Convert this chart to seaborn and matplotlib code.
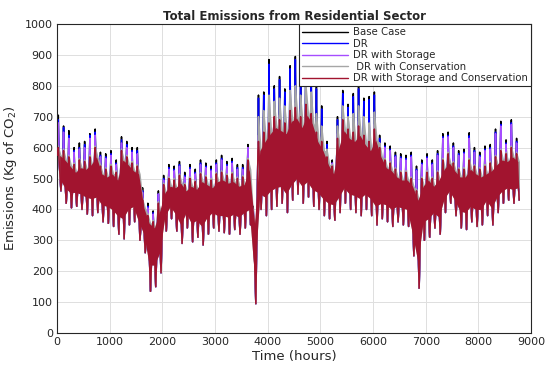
import numpy as np
import pandas as pd
import matplotlib
matplotlib.use("Agg")
import matplotlib.pyplot as plt
from matplotlib.colors import to_hex
import seaborn as sns

# hourly series summarised per 100-hour block: spike tops and troughs
block_start = np.arange(0, 8800, 100)

base_hi = [705, 670, 655, 600, 615, 620, 645, 660, 585, 580,
           590, 560, 635, 620, 600, 600, 470, 420, 395, 460,
           510, 545, 540, 555, 520, 545, 530, 560, 550, 540,
           560, 575, 555, 565, 545, 545, 610, 410, 770, 780,
           885, 800, 830, 790, 865, 895, 850, 915, 860, 800,
           735, 620, 560, 700, 785, 740, 775, 800, 760, 765,
           780, 640, 615, 605, 585, 580, 575, 585, 540, 560,
           580, 560, 590, 645, 650, 615, 590, 595, 648, 600,
           585, 605, 610, 660, 685, 625, 690, 630]

dr_hi = [690, 665, 640, 590, 600, 610, 640, 650, 575, 570,
         580, 550, 625, 610, 590, 590, 460, 410, 390, 450,
         500, 535, 530, 545, 510, 535, 520, 550, 540, 530,
         550, 565, 545, 555, 535, 535, 600, 400, 760, 770,
         870, 790, 820, 780, 855, 885, 840, 905, 850, 790,
         725, 610, 550, 690, 775, 730, 765, 790, 750, 755,
         770, 630, 605, 595, 575, 570, 565, 575, 530, 550,
         570, 550, 580, 635, 640, 605, 580, 585, 638, 590,
         575, 595, 600, 650, 675, 615, 680, 620]

storage_hi = [680, 650, 630, 585, 595, 600, 630, 640, 570, 565,
              575, 545, 615, 600, 585, 580, 455, 405, 385, 450,
              495, 530, 525, 540, 505, 530, 515, 545, 535, 525,
              545, 560, 540, 550, 530, 530, 600, 400, 640, 665,
              695, 715, 705, 695, 735, 745, 715, 755, 725, 665,
              635, 585, 550, 645, 705, 675, 665, 685, 655, 635,
              675, 615, 600, 590, 570, 565, 560, 570, 525, 545,
              565, 545, 575, 630, 635, 600, 575, 580, 630, 585,
              570, 590, 595, 645, 670, 610, 675, 615]

conserv_hi = [605, 595, 575, 550, 565, 560, 575, 605, 545, 535,
              545, 525, 595, 575, 555, 545, 435, 385, 365, 425,
              485, 505, 500, 515, 485, 505, 495, 520, 510, 500,
              520, 525, 515, 520, 505, 510, 565, 385, 700, 720,
              770, 750, 760, 735, 785, 800, 770, 805, 780, 710,
              670, 595, 545, 670, 735, 700, 710, 735, 700, 680,
              715, 615, 565, 555, 535, 525, 525, 505, 465, 505,
              525, 505, 525, 565, 585, 555, 535, 535, 565, 545,
              535, 545, 555, 575, 595, 585, 605, 585]

both_hi = [600, 590, 570, 545, 560, 555, 570, 600, 540, 530,
           540, 520, 590, 570, 550, 540, 430, 380, 360, 420,
           480, 500, 495, 510, 480, 500, 490, 515, 505, 495,
           515, 520, 510, 515, 500, 505, 560, 380, 620, 650,
           680, 700, 690, 680, 720, 730, 700, 740, 710, 650,
           620, 570, 540, 630, 690, 660, 650, 670, 640, 620,
           660, 600, 560, 550, 530, 520, 520, 500, 460, 500,
           520, 500, 520, 560, 580, 550, 530, 530, 560, 540,
           530, 540, 550, 570, 590, 580, 600, 580]

# troughs (same for all cases, the red series hides the others there)
block_lo = [460, 420, 405, 410, 400, 385, 380, 390, 360, 355,
            345, 320, 305, 350, 360, 300, 260, 135, 150, 195,
            330, 370, 330, 290, 340, 295, 310, 285, 320, 340,
            330, 325, 320, 335, 320, 340, 350, 95, 400, 380,
            400, 410, 420, 390, 430, 450, 420, 440, 410, 400,
            380, 370, 365, 390, 420, 400, 390, 380, 400, 380,
            350, 370, 360, 345, 360, 350, 345, 250, 145, 300,
            310, 340, 320, 390, 420, 380, 340, 335, 360, 345,
            350, 380, 350, 390, 420, 430, 420, 430]

# solid part of the red band (where the hourly line fills the pixels)
body_top = [575, 560, 540, 520, 535, 530, 545, 570, 515, 505,
            515, 495, 560, 545, 525, 515, 405, 355, 340, 395,
            455, 475, 470, 485, 460, 475, 465, 490, 480, 470,
            490, 495, 485, 490, 475, 480, 530, 355, 590, 620,
            645, 665, 655, 645, 685, 695, 665, 705, 675, 620,
            590, 545, 515, 600, 655, 630, 620, 640, 610, 590,
            625, 570, 535, 525, 505, 495, 495, 475, 430, 475,
            495, 475, 495, 530, 550, 525, 505, 505, 530, 515,
            505, 515, 525, 545, 560, 555, 570, 555]

body_bot = [500, 470, 455, 455, 450, 440, 435, 440, 415, 410,
            400, 380, 370, 400, 410, 360, 320, 220, 220, 260,
            380, 410, 385, 350, 390, 355, 365, 345, 375, 390,
            380, 380, 375, 385, 375, 390, 400, 180, 450, 440,
            460, 470, 475, 450, 480, 500, 475, 490, 465, 455,
            435, 420, 415, 440, 470, 450, 445, 435, 450, 435,
            410, 420, 415, 400, 410, 405, 400, 320, 230, 360,
            370, 390, 375, 435, 460, 430, 395, 390, 410, 400,
            400, 430, 405, 440, 460, 470, 465, 470]

series_names = ["Base Case", "DR", "DR with Storage",
                " DR with Conservation", "DR with Storage and Conservation"]
series_hi = [base_hi, dr_hi, storage_hi, conserv_hi, both_hi]
colors = ["#000000", "#0000FF", "#A64DFF", "#A6A6A6", "#A2142F"]

# long table: per block the line rises from the band to its spike top,
# comes back to the band and then dips to the trough
rows = []
for name, hi in zip(series_names, series_hi):
    for t, h, b, l in zip(block_start, hi, body_top, block_lo):
        rows.append({"hour": t + 15, "emis": b, "case": name})
        rows.append({"hour": t + 25, "emis": h, "case": name})
        rows.append({"hour": t + 35, "emis": b, "case": name})
        rows.append({"hour": t + 75, "emis": l, "case": name})
df = pd.DataFrame(rows)

sns.set_theme(style="whitegrid")
plt.rcParams['font.family'] = ['DejaVu Sans']

fig = plt.figure(figsize=(5.5, 3.74), dpi=100)
ax = fig.add_axes([0.1036, 0.1096, 0.862, 0.8262])

sns.lineplot(data=df, x="hour", y="emis", hue="case", hue_order=series_names,
             palette=colors, sort=False, estimator=None, linewidth=1.1, ax=ax)

# conservation case covers base/DR/storage (jagged teeth), the red case covers everything
mid = block_start + 50
gx = np.column_stack([block_start + 30, block_start + 80]).ravel()
gy = np.column_stack([conserv_hi, body_top]).ravel()
ax.fill_between(gx, np.interp(gx, mid, body_bot), gy, color=colors[3],
                linewidth=0, zorder=2.4)
ax.fill_between(mid, body_bot, body_top, color=colors[4], linewidth=0, zorder=2.5)
for ln in ax.lines:
    if to_hex(ln.get_color()) == to_hex(colors[4]):
        ln.set_zorder(3)

ax.set_xlim(0, 9000)
ax.set_ylim(0, 1000)
ax.set_xticks(range(0, 9001, 1000))
ax.set_yticks(range(0, 1001, 100))
ax.tick_params(axis="both", labelsize=8, colors="#262626", length=0, pad=3)
ax.grid(True, color="#DFDFDF", linewidth=0.7)
ax.set_axisbelow(True)
ax.set_facecolor("white")
for s in ax.spines.values():
    s.set_color("#262626")
    s.set_linewidth(0.8)

ax.set_title("Total Emissions from Residential Sector", fontsize=8.5,
             fontweight="bold", pad=3)
ax.set_xlabel("Time (hours)", fontsize=9.5, color="#262626", labelpad=2)
ax.set_ylabel("Emissions (Kg of CO$_2$)", fontsize=9.5, color="#262626", labelpad=4)

leg = ax.legend(loc="upper right", fontsize=7.3, frameon=True, fancybox=False,
                borderaxespad=0, handlelength=4.5, handletextpad=0.5,
                labelspacing=0.15, borderpad=0.3)
leg.set_zorder(5)
leg.get_frame().set_edgecolor("#262626")
leg.get_frame().set_linewidth(0.8)
leg.get_frame().set_alpha(1)
for line in leg.get_lines():
    line.set_linewidth(1.0)

plt.savefig("out.png", dpi=100)
